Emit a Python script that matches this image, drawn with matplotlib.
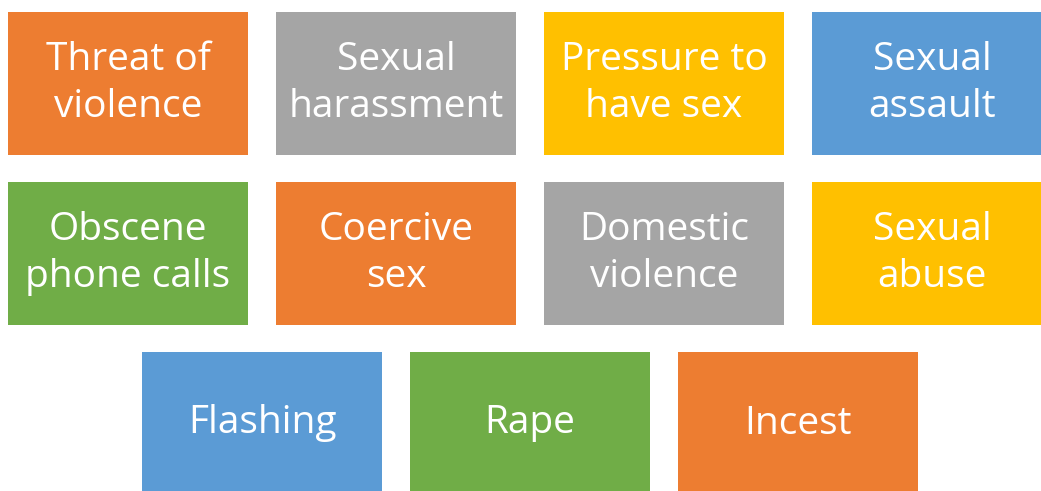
import matplotlib.pyplot as plt
from matplotlib.patches import Rectangle

# box labels and colours, row by row
labels = ['Threat of\nviolence', 'Sexual\nharassment', 'Pressure to\nhave sex', 'Sexual\nassault',
          'Obscene\nphone calls', 'Coercive\nsex', 'Domestic\nviolence', 'Sexual\nabuse',
          'Flashing', 'Rape', 'Incest']
colors = ['#ED7D31', '#A5A5A5', '#FFC000', '#5B9BD5',
          '#70AD47', '#ED7D31', '#A5A5A5', '#FFC000',
          '#5B9BD5', '#70AD47', '#ED7D31']
rows = [0, 0, 0, 0, 1, 1, 1, 1, 2, 2, 2]
cols = [0, 1, 2, 3, 0, 1, 2, 3, 0.5, 1.5, 2.5]

W, H = 1041, 491
bw, bh = 240, 143
xstep, ystep = 268, 170
x0, y0 = 8, 12

fig = plt.figure(figsize=(W / 100, H / 100), dpi=100)
ax = fig.add_axes([0, 0, 1, 1])
ax.set_xlim(0, W)
ax.set_ylim(H, 0)
ax.axis('off')

for lab, c, r, k in zip(labels, colors, rows, cols):
    x = x0 + k * xstep
    y = y0 + r * ystep
    ax.add_patch(Rectangle((x, y), bw, bh, facecolor=c, edgecolor='none'))
    ax.text(x + bw / 2, y + bh / 2, lab, color='white', ha='center', va='center',
            fontsize=28, family='Open Sans', linespacing=1.28)

fig.savefig('out.png', dpi=100)
